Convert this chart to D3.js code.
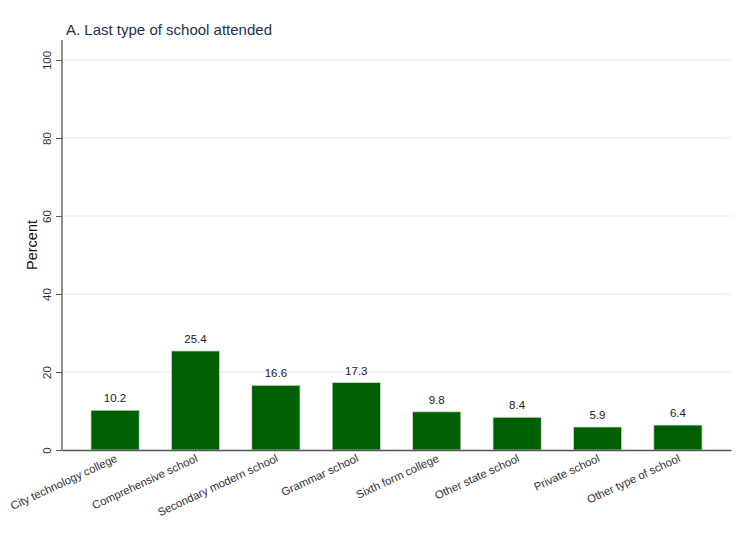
<!DOCTYPE html>
<html><head><meta charset="utf-8">
<script src="https://cdn.jsdelivr.net/npm/d3@7"></script>
<style>body{margin:0;background:#fff;font-family:"Liberation Sans",Arial,sans-serif;}</style>
</head><body>
<svg id="c" width="750" height="545"></svg>
<script>
const categories = ["City technology college","Comprehensive school","Secondary modern school","Grammar school","Sixth form college","Other state school","Private school","Other type of school"];
const values = [10.2,25.4,16.6,17.3,9.8,8.4,5.9,6.4];
const yTicks = [0,20,40,60,80,100];

(function(){
const svg = d3.select("#c");
svg.append("rect").attr("width",750).attr("height",545).attr("fill","#fff");
const pL = 62, pR = 731, pT = 40, pB = 450;
const y = d3.scaleLinear().domain([0,100]).range([pB,60]);
const x = d3.scaleBand().domain(categories).range([pL,pR]).paddingInner(0.4).paddingOuter(0.36);

// gridlines
svg.append("g").selectAll("line").data(yTicks.filter(d=>d>0)).join("line")
  .attr("x1",pL).attr("x2",pR).attr("y1",d=>y(d)).attr("y2",d=>y(d))
  .attr("stroke","#eaf2f3").attr("stroke-width",1.3);

// bars
svg.append("g").selectAll("rect").data(values).join("rect")
  .attr("x",(d,i)=>x(categories[i])).attr("width",x.bandwidth())
  .attr("y",d=>y(d)).attr("height",d=>pB-y(d))
  .attr("fill","#005f00").attr("stroke","#cfe3cf").attr("stroke-width",0.8);

// value labels
svg.append("g").selectAll("text").data(values).join("text")
  .attr("x",(d,i)=>x(categories[i])+x.bandwidth()/2).attr("y",d=>y(d)-8)
  .attr("text-anchor","middle").attr("font-size",11.5).attr("fill","#222")
  .text(d=>d.toFixed(1));

// y axis
const yAxis = d3.axisLeft(y).tickValues(yTicks).tickSize(6).tickSizeOuter(0);
const ga = svg.append("g").attr("transform",`translate(${pL},0)`).call(yAxis);
ga.select(".domain").remove();
ga.selectAll(".tick line").attr("stroke","#555");
ga.selectAll(".tick text").attr("font-size",11.5).attr("fill","#333")
  .attr("font-family","Liberation Sans, Arial, sans-serif")
  .attr("transform","rotate(-90)").attr("x",0).attr("y",-11).attr("dy","0")
  .attr("text-anchor","middle");
svg.append("line").attr("x1",pL).attr("x2",pL).attr("y1",pT).attr("y2",pB+0.5)
  .attr("stroke","#555").attr("stroke-width",1.3);

// x axis
const gx = svg.append("g").attr("transform",`translate(0,${pB})`)
  .call(d3.axisBottom(x).tickSize(0).tickSizeOuter(0));
gx.select(".domain").attr("stroke","#555").attr("stroke-width",1.3);
gx.selectAll(".tick text").attr("font-size",11.3).attr("fill","#333")
  .attr("font-family","Liberation Sans, Arial, sans-serif")
  .attr("text-anchor","end").attr("y",0).attr("dy","0")
  .attr("transform","translate(3,11) rotate(-25)");

// titles
svg.append("text").attr("x",66).attr("y",35).attr("font-size",15).attr("fill","#1f3050")
  .text("A. Last type of school attended");
svg.append("text").attr("transform",`translate(37,245) rotate(-90)`).attr("text-anchor","middle")
  .attr("font-size",14.5).attr("fill","#111").text("Percent");
})();
</script>
</body></html>
